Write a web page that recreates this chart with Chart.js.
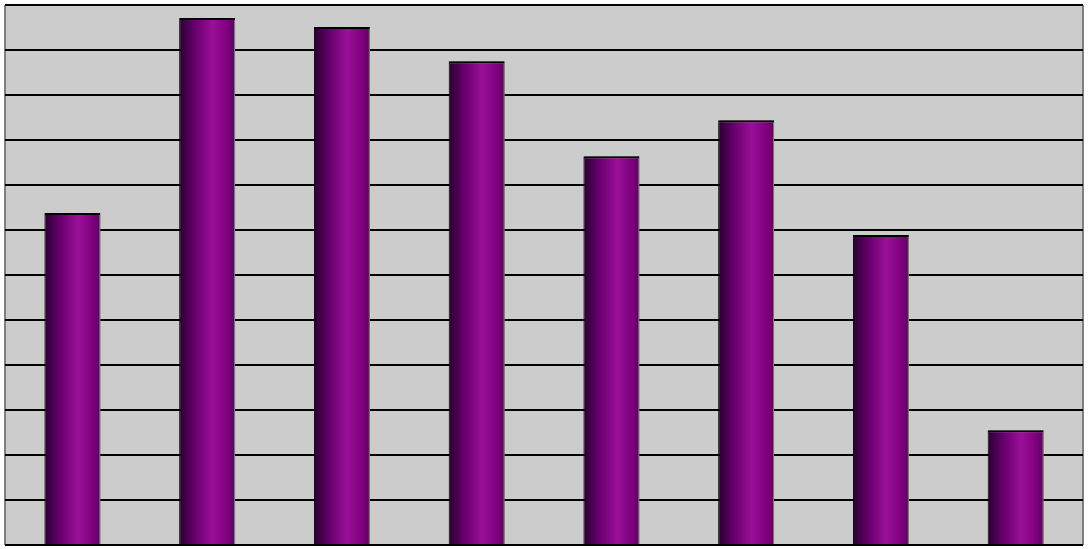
<!DOCTYPE html>
<html>
<head>
<meta charset="utf-8">
<script src="https://cdn.jsdelivr.net/npm/chart.js@4/dist/chart.umd.min.js"></script>
<style>
  body { margin: 0; background: #fff; }
  canvas { display: block; }
</style>
</head>
<body>
<canvas id="myChart" width="1088" height="549"></canvas>
<script>
// data
const categories = ['1', '2', '3', '4', '5', '6', '7', '8'];
const values = [7.38, 11.71, 11.51, 10.75, 8.64, 9.44, 6.89, 2.55];
const yTicks = [0, 1, 2, 3, 4, 5, 6, 7, 8, 9, 10, 11, 12];

const barPct = 0.415;

// grey plot background and frame
const plotArea = {
  id: 'plotArea',
  beforeDraw(chart) {
    const c = chart.ctx, a = chart.chartArea;
    c.save();
    c.fillStyle = '#cccccc';
    c.fillRect(a.left, a.top, a.right - a.left, a.bottom - a.top);
    c.strokeStyle = '#808080';
    c.lineWidth = 2;
    c.beginPath();
    c.moveTo(a.left, a.top); c.lineTo(a.left, a.bottom);
    c.moveTo(a.right, a.top); c.lineTo(a.right, a.bottom);
    c.stroke();
    c.restore();
  }
};

// grey drop shadow on the right side of the bars
const barShadow = {
  id: 'barShadow',
  beforeDatasetsDraw(chart) {
    const c = chart.ctx;
    c.save();
    c.shadowColor = '#808080';
    c.shadowOffsetX = 2;
    c.shadowOffsetY = 0;
    c.shadowBlur = 0;
  },
  afterDatasetsDraw(chart) {
    chart.ctx.restore();
  }
};

// cylinder-like gradient for each bar
function barGradient(context) {
  const chart = context.chart;
  const a = chart.chartArea;
  const x = chart.scales.x;
  if (!a || !x || context.dataIndex == null) return '#800080';
  const cw = (a.right - a.left) / categories.length;
  const mid = x.getPixelForValue(context.dataIndex);
  const l = mid - cw * barPct / 2, r = mid + cw * barPct / 2;
  const g = chart.ctx.createLinearGradient(l, 0, r, 0);
  g.addColorStop(0, '#2a0030');
  g.addColorStop(0.05, '#33003a');
  g.addColorStop(0.3, '#6a0070');
  g.addColorStop(0.6, '#9a1098');
  g.addColorStop(0.85, '#800080');
  g.addColorStop(1, '#600060');
  return g;
}

const ctx = document.getElementById('myChart');

new Chart(ctx, {
  type: 'bar',
  data: {
    labels: categories,
    datasets: [{
      data: values,
      backgroundColor: barGradient,
      borderColor: '#000000',
      borderWidth: { left: 1, right: 1, top: 2, bottom: 0 },
      borderSkipped: false,
      categoryPercentage: 1,
      barPercentage: barPct
    }]
  },
  options: {
    responsive: false,
    animation: false,
    layout: { padding: { left: 5, right: 5, top: 5, bottom: 4 } },
    plugins: {
      legend: { display: false },
      tooltip: { enabled: false }
    },
    scales: {
      x: {
        display: true,
        grid: { display: false, drawTicks: false },
        border: { display: false },
        ticks: { display: false }
      },
      y: {
        min: yTicks[0],
        max: yTicks[yTicks.length - 1],
        afterBuildTicks: axis => { axis.ticks = yTicks.map(v => ({ value: v })); },
        grid: { color: '#000000', lineWidth: 2, drawTicks: false },
        border: { display: false },
        ticks: { display: false }
      }
    }
  },
  plugins: [plotArea, barShadow]
});
</script>
</body>
</html>
